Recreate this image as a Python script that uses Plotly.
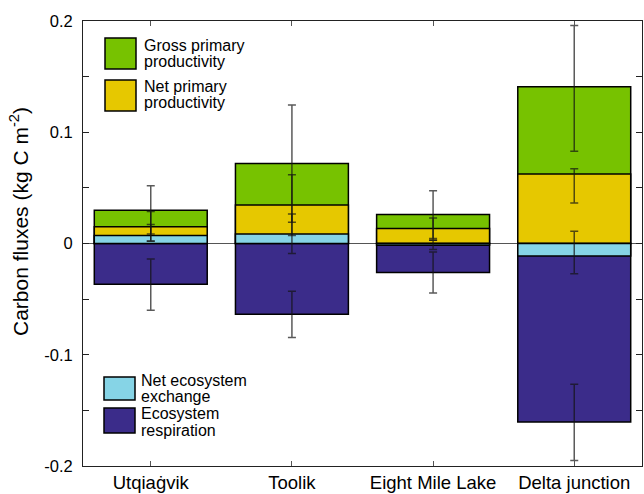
import plotly.graph_objects as go

# Sites and carbon flux components (kg C m-2)
sites = ["Utqiaġvik", "Toolik", "Eight Mile Lake", "Delta junction"]

gpp = [0.030, 0.072, 0.026, 0.141]
gpp_err_hi = [0.022, 0.0525, 0.0215, 0.055]
gpp_err_lo = [0.0215, 0.053, 0.0215, 0.058]

npp = [0.015, 0.0345, 0.0135, 0.0625]
npp_err_hi = [0.0138, 0.0272, 0.0095, 0.0048]
npp_err_lo = [0.0128, 0.0273, 0.0105, 0.0262]

nee = [0.0072, 0.0086, -0.0015, -0.0112]
nee_err_hi = [0.0099, 0.018, 0.0045, 0.0223]
nee_err_lo = [0.0051, 0.0175, 0.0039, 0.0161]

er = [-0.0367, -0.0636, -0.0261, -0.1605]
er_err_hi = [0.0228, 0.0207, 0.0185, 0.0339]
er_err_lo = [0.0233, 0.021, 0.0184, 0.0345]

y_tickvals = [-0.2, -0.1, 0, 0.1, 0.2]
y_ticktext = ["-0.2", "-0.1", "0", "0.1", "0.2"]

C_GPP = "#77c200"
C_NPP = "#e6c800"
C_NEE = "#86d4e6"
C_ER = "#3b2c8a"

FONT = "Liberation Sans, Arial, Helvetica, sans-serif"

# figure geometry
W, H = 644, 494
ML, MR, MT, MB = 83, 2, 21, 28
PW, PH = W - ML - MR, H - MT - MB


def px(x):
    return (x - ML) / PW


def py(y):
    return (H - MB - y) / PH


fig = go.Figure()

# overlaid bars: GPP behind NPP, then respiration, then NEE on top
components = [
    ("Gross primary productivity", gpp, C_GPP),
    ("Net primary productivity", npp, C_NPP),
    ("Ecosystem respiration", er, C_ER),
    ("Net ecosystem exchange", nee, C_NEE),
]
for name, vals, col in components:
    fig.add_trace(go.Bar(
        x=sites, y=vals, name=name, width=0.8,
        marker=dict(color=col, line=dict(color="black", width=1.5)),
        showlegend=False,
    ))

# error bars drawn above all bars
errors = [
    (gpp, gpp_err_hi, gpp_err_lo),
    (npp, npp_err_hi, npp_err_lo),
    (er, er_err_hi, er_err_lo),
    (nee, nee_err_hi, nee_err_lo),
]
for vals, hi, lo in errors:
    fig.add_trace(go.Scatter(
        x=sites, y=vals, mode="markers",
        marker=dict(size=1, color="rgba(0,0,0,0)"),
        error_y=dict(type="data", symmetric=False, array=hi, arrayminus=lo,
                     color="rgba(20,20,20,0.7)", thickness=1.5, width=4),
        showlegend=False, hoverinfo="skip",
    ))

# legend swatches and two-line labels
legend_items = [
    (C_GPP, 105, 136, 38, 69, 142, 45, 62, "Gross primary", "productivity"),
    (C_NPP, 105, 136, 80, 111, 142, 86, 103, "Net primary", "productivity"),
    (C_NEE, 104, 135, 377, 400, 139, 380, 397, "Net ecosystem", "exchange"),
    (C_ER, 104, 135, 408, 433, 139, 413, 430, "Ecosystem", "respiration"),
]
for col, x0, x1, y0, y1, tx, ty1, ty2, line1, line2 in legend_items:
    fig.add_shape(type="rect", xref="paper", yref="paper",
                  x0=px(x0), x1=px(x1), y0=py(y1), y1=py(y0),
                  fillcolor=col, line=dict(color="black", width=1.5))
    for ty, txt in ((ty1, line1), (ty2, line2)):
        fig.add_annotation(xref="paper", yref="paper", x=px(tx), y=py(ty),
                           xanchor="left", yanchor="middle", align="left",
                           showarrow=False, text=txt,
                           font=dict(family=FONT, size=16, color="black"))

# y-axis title
fig.add_annotation(xref="paper", yref="paper", x=px(19), y=py(222),
                   xanchor="center", yanchor="middle", textangle=-90,
                   showarrow=False, text="Carbon fluxes (kg C m<sup>-2</sup>)",
                   font=dict(family=FONT, size=21, color="black"))

fig.update_layout(
    width=W, height=H,
    margin=dict(l=ML, r=MR, t=MT, b=MB, pad=0),
    barmode="overlay",
    plot_bgcolor="white", paper_bgcolor="white",
    font=dict(family=FONT, size=16, color="black"),
    showlegend=False,
)
fig.update_xaxes(
    range=[-0.48, 3.48], showgrid=False, zeroline=False,
    showline=True, linecolor="#222", linewidth=1, mirror="ticks",
    ticks="inside", ticklen=5, tickcolor="#555", tickwidth=1,
    tickfont=dict(family=FONT, size=18.5, color="black"),
)
fig.update_yaxes(
    range=[-0.2, 0.2], showgrid=False,
    zeroline=True, zerolinecolor="#555", zerolinewidth=1,
    showline=True, linecolor="#222", linewidth=1, mirror="ticks",
    ticks="inside", ticklen=6, tickcolor="#222", tickwidth=1,
    tickvals=y_tickvals, ticktext=y_ticktext, ticklabelstandoff=6,
    minor=dict(ticks="inside", ticklen=6, tickcolor="#222", tick0=0, dtick=0.05,
               showgrid=False),
    tickfont=dict(family=FONT, size=16.5, color="black"),
)

fig.write_html("out.html")
